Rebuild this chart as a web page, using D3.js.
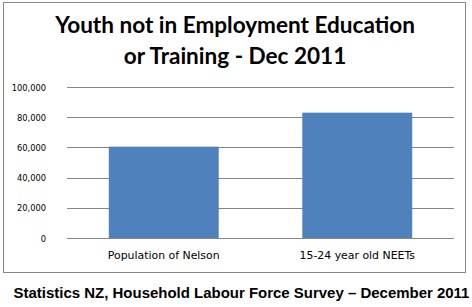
<!DOCTYPE html>
<html><head><meta charset="utf-8">
<script src="https://cdn.jsdelivr.net/npm/d3@7"></script>
<style>body{margin:0;background:#fff}</style>
</head><body>
<svg id="c" width="472" height="307"></svg>
<script>
const categories = ["Population of Nelson", "15-24 year old NEETs"];
const values = [60500, 83000];
const yTicks = [0, 20000, 40000, 60000, 80000, 100000];
const titleLines = ["Youth not in Employment Education", "or Training - Dec 2011"];
const sourceText = "Statistics NZ, Household Labour Force Survey \u2013 December 2011";

const svg = d3.select("#c");
function fit(sel, target){
  const w = sel.node().getComputedTextLength();
  const fs = parseFloat(sel.attr("font-size"));
  sel.attr("font-size", (fs*target/w).toFixed(2));
}

svg.append("rect").attr("x",3.5).attr("y",2.5).attr("width",462).attr("height",270)
  .attr("fill","#fff").attr("stroke","#888").attr("stroke-width",1);

const x = d3.scaleBand().domain(categories).range([67,454]).paddingInner(0.432).paddingOuter(0.216);
const y = d3.scaleLinear().domain([0,100000]).range([238,87]);

// gridlines
svg.append("g").selectAll("line").data(yTicks).join("line")
  .attr("x1",67).attr("x2",454)
  .attr("y1",d=>Math.round(y(d))+0.5).attr("y2",d=>Math.round(y(d))+0.5)
  .attr("stroke","#868686").attr("stroke-width",1);

// bars
svg.append("g").selectAll("rect").data(values).join("rect")
  .attr("x",(d,i)=>x(categories[i])).attr("width",x.bandwidth())
  .attr("y",d=>y(d)).attr("height",d=>y(0)-y(d))
  .attr("fill","#4F81BD");

// y tick labels
const fmt = d3.format(",");
svg.append("g").selectAll("text").data(yTicks).join("text")
  .attr("x",46).attr("y",d=>y(d)+3.5).attr("text-anchor","end")
  .attr("font-family","'DejaVu Sans', sans-serif").attr("font-size",8.3).attr("fill","#000")
  .text(d=>fmt(d));

// category labels
svg.append("g").selectAll("text").data(categories).join("text")
  .attr("x",d=>x(d)+x.bandwidth()/2).attr("y",259).attr("text-anchor","middle")
  .attr("font-family","'DejaVu Sans', sans-serif").attr("font-size",10.9).attr("fill","#000")
  .text(d=>d);

// title
titleLines.forEach((t,i)=>{
  svg.append("text").attr("x",235).attr("y",[32.5,64][i]).attr("text-anchor","middle")
    .attr("font-family","Lato, 'Open Sans', sans-serif").attr("font-weight","bold")
    .attr("font-size",21).attr("fill","#000").text(t);
});
{
  const t1 = svg.selectAll("text").filter(function(){return this.textContent===titleLines[0];});
  fit(t1, 360);
  const fs = t1.attr("font-size");
  svg.selectAll("text").filter(function(){return this.textContent===titleLines[1];}).attr("font-size",fs);
}

// source
const src = svg.append("text").attr("x",241.5).attr("y",298).attr("text-anchor","middle")
  .attr("font-family","'Liberation Sans', Arial, sans-serif").attr("font-weight","bold")
  .attr("font-size",13).attr("fill","#000").text(sourceText);
fit(src, 456);
</script>
</body></html>
